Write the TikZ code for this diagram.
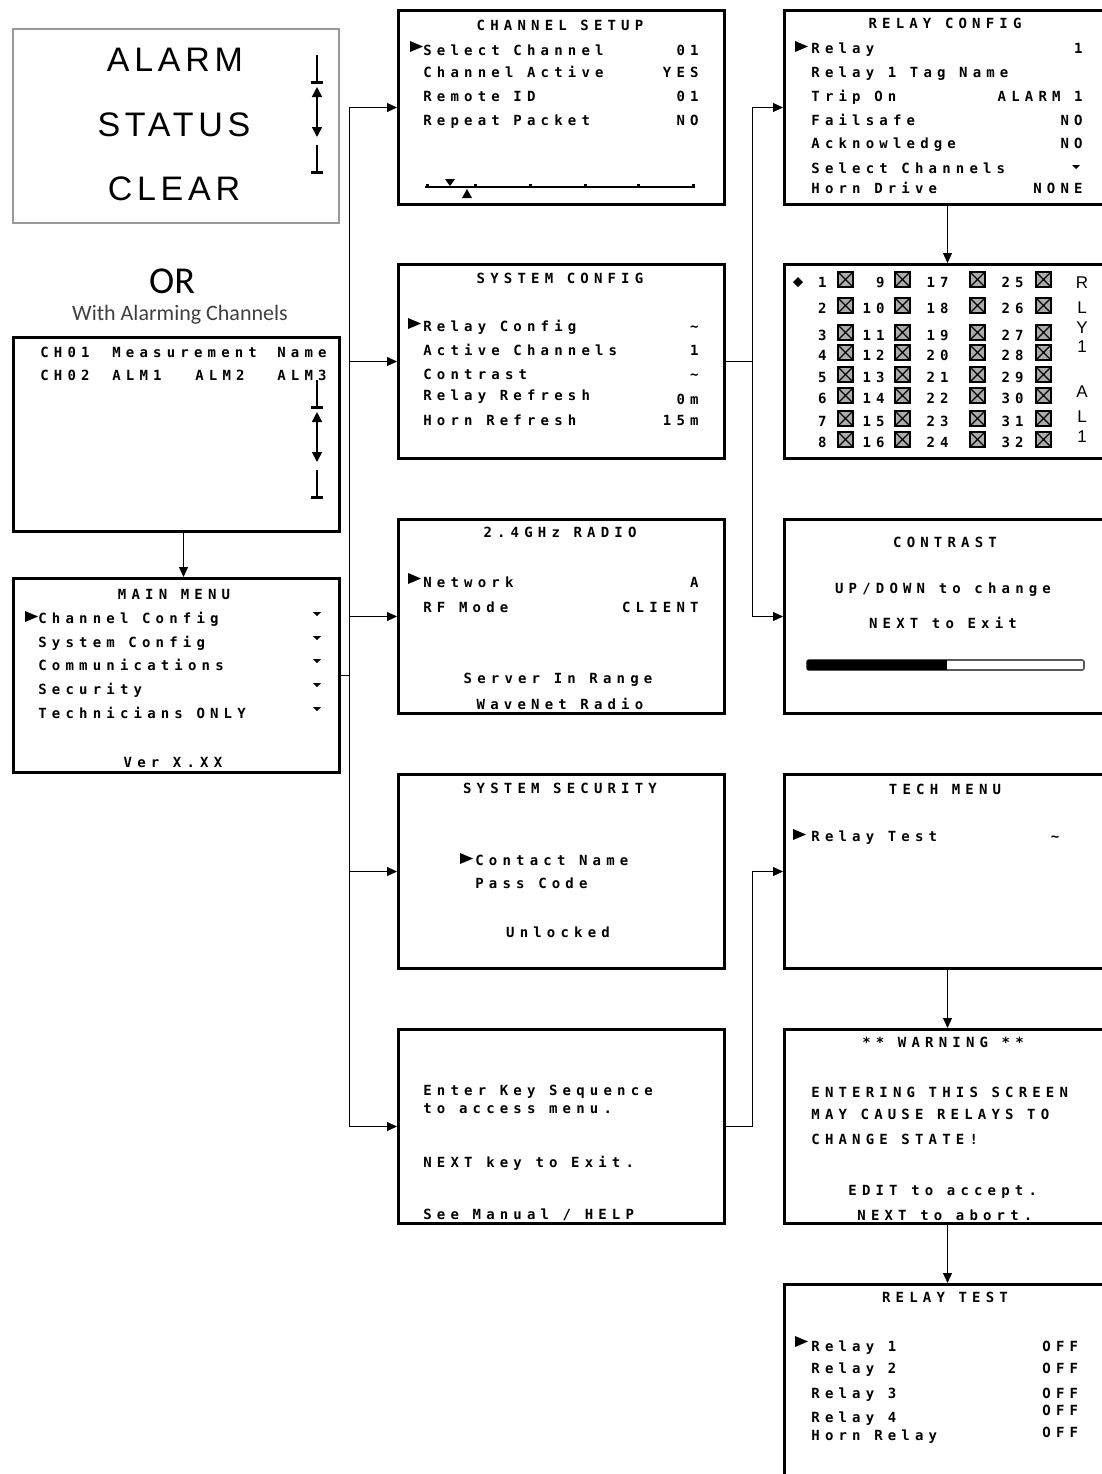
\documentclass[tikz,border=0pt]{standalone}
\usepackage{fontspec}
\usetikzlibrary{arrows.meta}
\newfontfamily\lcdfont[LetterSpace=37]{DejaVu Sans Mono}
\newfontfamily\bigfont[LetterSpace=14]{Liberation Sans}
\newfontfamily\orfont{Carlito}

\begin{document}
\begin{tikzpicture}[x=0.5pt, y=-0.5pt,
  screen/.style={draw, line width=1.5pt, anchor=north west, minimum width=163pt, minimum height=97pt, inner sep=0pt},
  lcd/.style={font=\lcdfont\bfseries\fontsize{7}{8}\selectfont, inner sep=0pt},
  lcdl/.style={lcd, anchor=base west},
  lcdr/.style={lcd, anchor=base east},
  lcdc/.style={lcd, anchor=base},
  bigtxt/.style={font=\bigfont\fontsize{17}{20}\selectfont, anchor=base, inner sep=0pt},
  link/.style={line width=0.5pt},
  arr/.style={link, -{Triangle[length=5pt, width=4.5pt]}},
  xbox/.style={fill=gray!65, draw=black, line width=0.6pt}]
\useasboundingbox (0,0) rectangle (1102,1474);
\clip (0,0) rectangle (1102,1474);
\fill[white] (0,0) rectangle (1102,1474);

% left column
\node[screen, draw=gray!80, line width=1pt] (alarm) at (12,28) {};
\node[bigtxt] (alarm-1) at (175,71) {ALARM};
\node[bigtxt] (alarm-2) at (174,136) {STATUS};
\node[bigtxt] (alarm-3) at (174,200) {CLEAR};
\node[font=\orfont\fontsize{19}{22}\selectfont, anchor=base, inner sep=0pt] (or) at (172,293) {OR};
\node[font=\orfont\fontsize{11}{13}\selectfont, text=black!75, anchor=base, inner sep=0pt] (or-sub) at (180,320) {With Alarming Channels};

\node[screen] (chmeas) at (12,336) {};
\node[lcdl] (chm-1) at (40,357) {CH01};
\node[lcdl] (chm-2) at (112,357) {Measurement};
\node[lcdl] (chm-3) at (277,357) {Name};
\node[lcdl] (chm-4) at (40,380) {CH02};
\node[lcdl] (chm-5) at (112,380) {ALM1};
\node[lcdl] (chm-6) at (195,380) {ALM2};
\node[lcdl] (chm-7) at (277,380) {ALM3};

% scroll marks
\foreach \sy in {55,380} {
  \draw[line width=0.8pt] (317,\sy) -- (317,{\sy+27});
  \draw[line width=1.5pt] (311,{\sy+27}) -- (323,{\sy+27});
  \draw[line width=0.8pt, {Triangle[length=5pt,width=5pt]}-{Triangle[length=5pt,width=5pt]}] (317,{\sy+32}) -- (317,{\sy+82});
  \draw[line width=0.8pt] (317,{\sy+90}) -- (317,{\sy+117});
  \draw[line width=1.5pt] (311,{\sy+117}) -- (323,{\sy+117});
}

\node[screen] (mainmenu) at (12,577) {};
\node[lcdc] (mm-title) at (174,599) {MAIN MENU};
\foreach \yy/\tx [count=\i] in {623/Channel Config, 647/System Config, 670/Communications, 694/Security, 718/Technicians ONLY} {
  \node[lcdl] (mm-\i) at (38,\yy) {\tx};
  \fill (313,{\yy-11}) -- (321,{\yy-11}) -- (317,{\yy-7}) -- cycle;
}
\node[lcdc] (mm-ver) at (173,767) {Ver X.XX};

% middle column
\node[screen] (chsetup) at (397,9) {};
\node[lcdc] (cs-title) at (560,30) {CHANNEL SETUP};
\foreach \yy/\tl/\tv [count=\i] in {55/Select Channel/01, 77/Channel Active/YES, 101/Remote ID/01, 125/Repeat Packet/NO} {
  \node[lcdl] (cs-l\i) at (423,\yy) {\tl};
  \node[lcdr] (cs-v\i) at (699,\yy) {\tv};
}
\draw[line width=1pt] (425,187) -- (695,187);
\foreach \tx in {427,475,530,585,638,693}
  \draw[line width=1.5pt] (\tx,184) -- (\tx,188);
\fill (445,179) -- (455,179) -- (450,186) -- cycle;
\fill (467,189) -- (472,198) -- (462,198) -- cycle;

\node[screen] (sysconf) at (397,263) {};
\node[lcdc] (sc-title) at (560,283) {SYSTEM CONFIG};
\foreach \yl/\yv/\tl/\tv [count=\i] in {331/331/Relay Config/\textasciitilde, 355/355/Active Channels/1, 379/379/Contrast/\textasciitilde, 400/404/Relay Refresh/0m, 425/425/Horn Refresh/15m} {
  \node[lcdl] (sc-l\i) at (423,\yl) {\tl};
  \node[lcdr] (sc-v\i) at (699,\yv) {\tv};
}

\node[screen] (radio) at (397,518) {};
\node[lcdc] (rd-title) at (560,537) {2.4GHz RADIO};
\node[lcdl] (rd-l1) at (423,587) {Network};
\node[lcdr] (rd-v1) at (699,587) {A};
\node[lcdl] (rd-l2) at (423,612) {RF Mode};
\node[lcdr] (rd-v2) at (699,612) {CLIENT};
\node[lcdc] (rd-3) at (558,683) {Server In Range};
\node[lcdc] (rd-4) at (560,709) {WaveNet Radio};

\node[screen] (security) at (397,773) {};
\node[lcdc] (sec-title) at (560,793) {SYSTEM SECURITY};
\node[lcdl] (sec-1) at (475,865) {Contact Name};
\node[lcdl] (sec-2) at (475,888) {Pass Code};
\node[lcdc] (sec-3) at (558,937) {Unlocked};

\node[screen] (enterkey) at (397,1028) {};
\node[lcdl] (ek-1) at (423,1095) {Enter Key Sequence};
\node[lcdl] (ek-2) at (423,1113) {to access menu.};
\node[lcdl] (ek-3) at (423,1167) {NEXT key to Exit.};
\node[lcdl] (ek-4) at (423,1219) {See Manual / HELP};

% right column
\node[screen] (relayconf) at (783,9) {};
\node[lcdc] (rc-title) at (945,28) {RELAY CONFIG};
\foreach \yy/\tl/\tv [count=\i] in {53/Relay/1, 77/Relay 1 Tag Name/, 101/Trip On/ALARM 1, 125/Failsafe/NO, 148/Acknowledge/NO, 173/Select Channels/, 193/Horn Drive/NONE} {
  \node[lcdl] (rc-l\i) at (811,\yy) {\tl};
  \node[lcdr] (rc-v\i) at (1083,\yy) {\tv};
}
\fill (1072,165) -- (1080,165) -- (1076,169) -- cycle;

\node[screen] (relaygrid) at (783,263) {};
\fill (793,282) -- (798,277) -- (803,282) -- (798,287) -- cycle;
\foreach \b [count=\r] in {287,313,340,360,382,403,426,447} {
  \foreach \nx/\bx [count=\c] in {827/838, 885/895, 949/970, 1024/1036} {
    \pgfmathtruncatemacro{\num}{\r+8*(\c-1)}
    \node[lcdr] (g-\r-\c) at (\nx,\b) {\num};
    \draw[xbox] (\bx,{\b-15}) rectangle ({\bx+15},\b);
    \draw[line width=0.6pt] (\bx,{\b-15}) -- ({\bx+15},\b) (\bx,\b) -- ({\bx+15},{\b-15});
  }
}
\foreach \yy/\ch [count=\i] in {288/R, 313/L, 333/Y, 352/1, 397/A, 422/L, 442/1}
  \node[font=\bigfont\fontsize{8.5}{10}\selectfont, anchor=base, inner sep=0pt] (rly-\i) at (1082,\yy) {\ch};

\node[screen] (contrast) at (783,518) {};
\node[lcdc] (ct-title) at (945,547) {CONTRAST};
\node[lcdc] (ct-1) at (943,593) {UP/DOWN to change};
\node[lcdc] (ct-2) at (943,628) {NEXT to Exit};
\draw[line width=0.8pt, draw=gray!70!black, rounded corners=1pt] (807,660) rectangle (1084,670);
\fill (807,660) rectangle (947,670);

\node[screen] (techmenu) at (783,773) {};
\node[lcdc] (tm-title) at (945,794) {TECH MENU};
\node[lcdl] (tm-1) at (811,841) {Relay Test};
\node[lcdc] (tm-2) at (1055,841) {\textasciitilde};

\node[screen] (warning) at (783,1028) {};
\node[lcdc] (wn-title) at (943,1047) {** WARNING **};
\node[lcdl] (wn-1) at (811,1097) {ENTERING THIS SCREEN};
\node[lcdl] (wn-2) at (811,1119) {MAY CAUSE RELAYS TO};
\node[lcdl] (wn-3) at (811,1144) {CHANGE STATE!};
\node[lcdl] (wn-4) at (848,1195) {EDIT to accept.};
\node[lcdl] (wn-5) at (857,1220) {NEXT to abort.};

\node[screen, minimum height=115pt] (relaytest) at (783,1283) {};
\node[lcdc] (rt-title) at (945,1302) {RELAY TEST};
\foreach \yl/\yv/\tl [count=\i] in {1351/1351/Relay 1, 1373/1373/Relay 2, 1398/1398/Relay 3, 1422/1415/Relay 4, 1440/1437/Horn Relay} {
  \node[lcdl] (rt-l\i) at (811,\yl) {\tl};
  \node[lcdl] (rt-v\i) at (1042,\yv) {OFF};
}

% pointers
\foreach \px/\py in {25/611, 410/41, 795/41, 408/318, 408/573, 460/853, 793/829, 795/1336}
  \fill (\px,\py) -- ++(13,5.5) -- ++(-13,5.5) -- cycle;

% connectors
\coordinate (lbus) at (349,0);
\coordinate (rbus) at (752,0);
\draw[arr] ([xshift=3.5pt]chmeas.south) -- ([xshift=3.5pt]mainmenu.north);
\draw[link] (mainmenu.east) -- (mainmenu.east -| lbus);
\draw[link] (chsetup.west -| lbus) -- (enterkey.west -| lbus);
\foreach \n in {chsetup, sysconf, radio, security, enterkey}
  \draw[arr] (\n.west -| lbus) -- (\n.west);
\draw[link] (sysconf.east) -- (sysconf.east -| rbus);
\draw[link] (relayconf.west -| rbus) -- (contrast.west -| rbus);
\draw[arr] (relayconf.west -| rbus) -- (relayconf.west);
\draw[arr] (contrast.west -| rbus) -- (contrast.west);
\draw[link] (enterkey.east) -- (enterkey.east -| rbus) -- (techmenu.west -| rbus);
\draw[arr] (techmenu.west -| rbus) -- (techmenu.west);
\draw[arr] (relayconf.south) -- (relaygrid.north);
\draw[arr] (techmenu.south) -- (warning.north);
\draw[arr] (warning.south) -- (relaytest.north);
\end{tikzpicture}
\end{document}
